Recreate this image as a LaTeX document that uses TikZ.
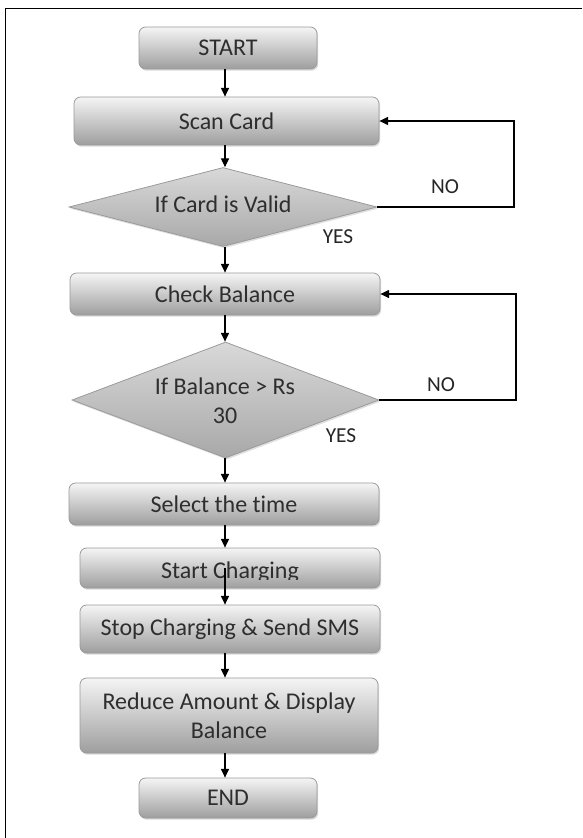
\documentclass[tikz,border=0pt]{standalone}
\usepackage{fontspec}
\setmainfont{Carlito}[Ligatures={NoCommon}]
\usetikzlibrary{shadows,arrows.meta,shapes.geometric}
\definecolor{txtc}{HTML}{2E2E2E}
\definecolor{bord}{HTML}{9A9A9A}
\tikzset{
  boxst/.style={draw=bord, line width=0.6pt, rounded corners=5pt,
    top color=white!96!black, bottom color=black!38,
    drop shadow={opacity=0.3, shadow xshift=0.9pt, shadow yshift=-1.3pt},
    inner sep=0pt, text=txtc, font=\fontsize{18}{21.75}\selectfont, align=center},
  decst/.style={shape=diamond, draw=bord, line width=0.6pt,
    top color=black!15, bottom color=black!34,
    drop shadow={opacity=0.25, shadow xshift=0.9pt, shadow yshift=-1.3pt},
    inner sep=0pt, aspect=2},
  boxtxt/.style={inner sep=0pt, text=txtc, font=\fontsize{18}{21.75}\selectfont, align=center},
  arr/.style={draw=black, line width=0.8pt, -{Triangle[length=6.5pt,width=6pt]}},
  lbl/.style={inner sep=0pt, text=black!85, font=\fontsize{16}{18}\selectfont},
  frame/.style={draw=black, line width=1.4pt}
}
\begin{document}
\begin{tikzpicture}[x=0.75pt,y=-0.75pt]
\useasboundingbox (0,0) rectangle (582,838);
\draw[frame] (582,8.5) -- (5.5,8.5) -- (5.5,838);

\coordinate (axis) at (225,0);
\coordinate (c1) at (514,0);
\coordinate (c2) at (516,0);

\node[boxst, minimum width=133.5pt, minimum height=31.5pt] (start) at (228,48) {START};
\node[boxst, minimum width=228.75pt, minimum height=36pt] (scan) at (226.5,121) {Scan Card};
\node[decst, minimum width=231pt, minimum height=59.25pt] (d1) at (223,207) {};
\node[boxtxt] (d1t) at (223,204) {If Card is Valid};
\node[boxst, minimum width=232.5pt, minimum height=31.5pt] (check) at (225,294) {Check Balance};
\node[decst, minimum width=230.25pt, minimum height=87pt] (d2) at (225.5,400) {};
\node[boxtxt] (d2t) at (225,401) {If Balance > Rs\\30};
\node[boxst, minimum width=232.5pt, minimum height=31.5pt] (select) at (224,504) {Select the time};
\node[boxst, minimum width=225pt, minimum height=30pt] (startch) at (230,568) {};
\begin{scope}
  \clip (80,548) rectangle (380,579.5);
  \node[boxtxt, anchor=base] (startcht) at (230,578) {Start Charging};
\end{scope}
\node[boxst, minimum width=225pt, minimum height=36pt] (stop) at (230,629) {Stop Charging \& Send SMS};
\node[boxst, minimum width=223.5pt, minimum height=56.25pt] (reduce) at (229,715.5) {Reduce Amount \& Display\\Balance};
\node[boxst, minimum width=133.5pt, minimum height=30pt] (end) at (228,798) {END};

\node[lbl] (no1) at (445,187) {NO};
\node[lbl] (yes1) at (338,237) {YES};
\node[lbl] (no2) at (441,385) {NO};
\node[lbl] (yes2) at (341,436) {YES};

\draw[arr] (start.south -| axis) -- (scan.north -| axis);
\draw[arr] (scan.south -| axis) -- (d1.north -| axis);
\draw[arr] (d1.south -| axis) -- (check.north -| axis);
\draw[arr] (check.south -| axis) -- (d2.north -| axis);
\draw[arr] (d2.south -| axis) -- (select.north -| axis);
\draw[arr] (select.south -| axis) -- (startch.north -| axis);
\draw[arr] (startch.center -| axis) -- (stop.north -| axis);
\draw[arr] (stop.south -| axis) -- (reduce.north -| axis);
\draw[arr] (reduce.south -| axis) -- (end.north -| axis);

\draw[arr] (d1.east) -- (d1.east -| c1) -- (scan.east -| c1) -- (scan.east);
\draw[arr] (d2.east) -- (d2.east -| c2) -- (check.east -| c2) -- (check.east);
\end{tikzpicture}
\end{document}
